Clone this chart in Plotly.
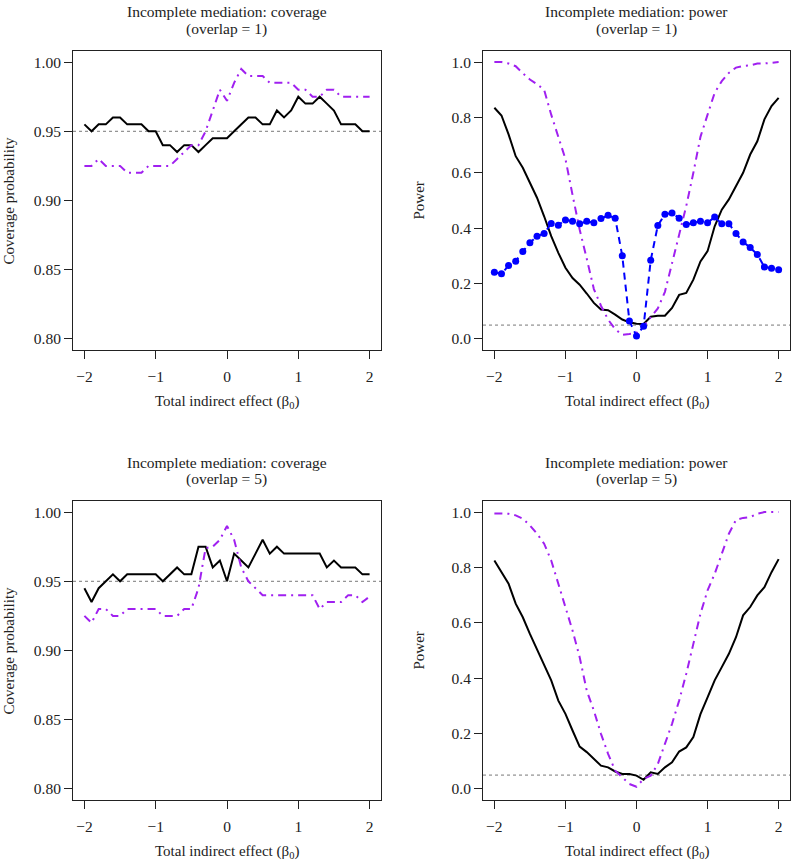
import plotly.graph_objects as go

# ---------------- data ----------------
beta0 = [round(-2 + 0.1 * i, 1) for i in range(41)]

cov1_black = [0.955, 0.950, 0.955, 0.955, 0.960, 0.960, 0.955, 0.955, 0.955, 0.950,
              0.950, 0.940, 0.940, 0.935, 0.940, 0.940, 0.935, 0.940, 0.945, 0.945,
              0.945, 0.950, 0.955, 0.960, 0.960, 0.955, 0.955, 0.965, 0.960, 0.965,
              0.975, 0.970, 0.970, 0.975, 0.970, 0.965, 0.955, 0.955, 0.955, 0.950,
              0.950]
cov1_purple = [0.925, 0.925, 0.930, 0.925, 0.925, 0.925, 0.920, 0.920, 0.920, 0.925,
               0.925, 0.925, 0.925, 0.930, 0.935, 0.940, 0.940, 0.950, 0.965, 0.980,
               0.972, 0.985, 0.995, 0.990, 0.990, 0.990, 0.985, 0.985, 0.985, 0.985,
               0.980, 0.980, 0.975, 0.975, 0.980, 0.980, 0.975, 0.975, 0.975, 0.975,
               0.975]

pow1_black = [0.835, 0.807, 0.739, 0.660, 0.618, 0.564, 0.510, 0.443, 0.371, 0.311,
              0.257, 0.220, 0.196, 0.164, 0.130, 0.106, 0.104, 0.088, 0.070, 0.060,
              0.055, 0.054, 0.080, 0.084, 0.084, 0.112, 0.159, 0.166, 0.214, 0.280,
              0.317, 0.407, 0.467, 0.504, 0.552, 0.600, 0.666, 0.714, 0.793, 0.841,
              0.871]
pow1_purple = [1.000, 1.000, 0.995, 0.985, 0.960, 0.937, 0.920, 0.900, 0.810, 0.730,
               0.650, 0.520, 0.395, 0.290, 0.180, 0.120, 0.070, 0.035, 0.015, 0.018,
               0.022, 0.046, 0.076, 0.110, 0.170, 0.270, 0.380, 0.480, 0.600, 0.730,
               0.810, 0.889, 0.931, 0.961, 0.980, 0.986, 0.988, 0.995, 0.995, 0.998,
               1.000]
pow1_blue = [0.241, 0.235, 0.265, 0.281, 0.316, 0.347, 0.371, 0.381, 0.417, 0.411,
             0.430, 0.425, 0.416, 0.425, 0.420, 0.435, 0.447, 0.436, 0.300, 0.065,
             0.011, 0.046, 0.284, 0.410, 0.450, 0.455, 0.436, 0.413, 0.420, 0.425,
             0.420, 0.440, 0.416, 0.416, 0.381, 0.350, 0.330, 0.305, 0.260, 0.255,
             0.250]

cov5_black = [0.945, 0.935, 0.945, 0.950, 0.955, 0.950, 0.955, 0.955, 0.955, 0.955,
              0.955, 0.950, 0.955, 0.960, 0.955, 0.955, 0.975, 0.975, 0.960, 0.965,
              0.950, 0.970, 0.965, 0.960, 0.970, 0.980, 0.970, 0.975, 0.970, 0.970,
              0.970, 0.970, 0.970, 0.970, 0.960, 0.965, 0.960, 0.960, 0.960, 0.955,
              0.955]
cov5_purple = [0.925, 0.920, 0.930, 0.930, 0.925, 0.925, 0.930, 0.930, 0.930, 0.930,
               0.930, 0.925, 0.925, 0.925, 0.930, 0.930, 0.945, 0.974, 0.975, 0.980,
               0.990, 0.980, 0.960, 0.950, 0.945, 0.940, 0.940, 0.940, 0.940, 0.940,
               0.940, 0.940, 0.940, 0.930, 0.935, 0.935, 0.935, 0.940, 0.940, 0.935,
               0.939]

pow5_black = [0.825, 0.783, 0.741, 0.669, 0.620, 0.560, 0.506, 0.452, 0.392, 0.319,
              0.271, 0.211, 0.153, 0.133, 0.108, 0.084, 0.078, 0.063, 0.054, 0.054,
              0.048, 0.033, 0.060, 0.054, 0.078, 0.096, 0.135, 0.150, 0.187, 0.270,
              0.331, 0.392, 0.440, 0.488, 0.548, 0.627, 0.657, 0.699, 0.729, 0.783,
              0.830]
pow5_purple = [0.995, 0.995, 0.994, 0.988, 0.976, 0.952, 0.922, 0.886, 0.825, 0.741,
               0.657, 0.572, 0.476, 0.355, 0.283, 0.199, 0.127, 0.066, 0.042, 0.018,
               0.008, 0.036, 0.048, 0.090, 0.163, 0.235, 0.319, 0.416, 0.524, 0.633,
               0.717, 0.777, 0.849, 0.922, 0.972, 0.979, 0.982, 0.994, 1.000, 1.000,
               1.000]

nominal_coverage = 0.95
nominal_alpha = 0.05

title_main = ["Incomplete mediation: coverage", "Incomplete mediation: power",
              "Incomplete mediation: coverage", "Incomplete mediation: power"]
title_sub = ["(overlap = 1)", "(overlap = 1)", "(overlap = 5)", "(overlap = 5)"]
xlabel = "Total indirect effect (β<sub>0</sub>)"
cov_ticks = [0.80, 0.85, 0.90, 0.95, 1.00]
pow_ticks = [0.0, 0.2, 0.4, 0.6, 0.8, 1.0]
x_ticks = [-2, -1, 0, 1, 2]

# ---------------- styling ----------------
W, H = 791, 860
FONT = "Liberation Serif"
TXT = "#222222"
BLACK = "#000000"
PURPLE = "#A020F0"
BLUE = "#0000FF"
DOTDASH = "8px,5px,2px,5px"

fig = go.Figure()

def add_line(x, y, ax, color, dash, width=2):
    fig.add_trace(go.Scatter(x=x, y=y, mode="lines", xaxis="x" + ax, yaxis="y" + ax,
                             line=dict(color=color, width=width, dash=dash),
                             showlegend=False, hoverinfo="skip"))

# panel 1
add_line(beta0, cov1_black, "", BLACK, "solid")
add_line(beta0, cov1_purple, "", PURPLE, DOTDASH)
# panel 2
add_line(beta0, pow1_black, "2", BLACK, "solid")
add_line(beta0, pow1_purple, "2", PURPLE, DOTDASH)
fig.add_trace(go.Scatter(x=beta0, y=pow1_blue, mode="lines+markers", xaxis="x2", yaxis="y2",
                         line=dict(color=BLUE, width=2, dash="7px,5px"),
                         marker=dict(color=BLUE, size=7),
                         showlegend=False, hoverinfo="skip"))
# panel 3
add_line(beta0, cov5_black, "3", BLACK, "solid")
add_line(beta0, cov5_purple, "3", PURPLE, DOTDASH)
# panel 4
add_line(beta0, pow5_black, "4", BLACK, "solid")
add_line(beta0, pow5_purple, "4", PURPLE, DOTDASH)

# pixel geometry of panels (left, right, top, bottom)
panels = [(73, 381, 51, 350), (483, 790, 51, 350), (73, 381, 501, 800), (483, 790, 501, 800)]

axis_common = dict(showline=True, mirror=True, linecolor=TXT, linewidth=1,
                   ticks="outside", ticklen=8, tickcolor=TXT, tickwidth=1,
                   showgrid=False, zeroline=False,
                   tickfont=dict(family=FONT, size=15.5, color=TXT))

layout = dict(width=W, height=H, margin=dict(l=0, r=0, t=0, b=0),
              plot_bgcolor="white", paper_bgcolor="white", showlegend=False)

annotations = []
shapes = []
for k, (l, r, t, b) in enumerate(panels):
    sx = "" if k == 0 else str(k + 1)
    is_cov = k in (0, 2)
    layout["xaxis" + sx] = dict(axis_common, domain=[l / W, r / W], range=[-2.16, 2.16],
                                tickvals=x_ticks, ticktext=["\u22122", "\u22121", "0", "1", "2"],
                                ticklabelstandoff=4, anchor="y" + sx)
    if is_cov:
        layout["yaxis" + sx] = dict(axis_common, domain=[1 - b / H, 1 - t / H],
                                    range=[0.792, 1.008], tickvals=cov_ticks,
                                    tickformat=".2f", anchor="x" + sx)
        ref = nominal_coverage
        ytitle = "Coverage probability"
    else:
        layout["yaxis" + sx] = dict(axis_common, domain=[1 - b / H, 1 - t / H],
                                    range=[-0.04, 1.04], tickvals=pow_ticks,
                                    tickformat=".1f", anchor="x" + sx)
        ref = nominal_alpha
        ytitle = "Power"
    shapes.append(dict(type="line", xref="x" + sx + " domain", yref="y" + sx,
                       x0=0, x1=1, y0=ref, y1=ref,
                       line=dict(color="#777777", width=1, dash="dot"), layer="below"))
    cx = (l + r) / 2
    annotations.append(dict(text=title_main[k], x=cx / W, y=1 - (t - 39) / H, xref="paper",
                            yref="paper", xanchor="center", yanchor="middle", showarrow=False,
                            font=dict(family=FONT, size=15.5, color=TXT)))
    annotations.append(dict(text=title_sub[k], x=cx / W, y=1 - (t - 22) / H, xref="paper",
                            yref="paper", xanchor="center", yanchor="middle", showarrow=False,
                            font=dict(family=FONT, size=15.5, color=TXT)))
    annotations.append(dict(text=xlabel, x=cx / W, y=1 - (b + 52) / H, xref="paper", yref="paper",
                            xanchor="center", yanchor="middle", showarrow=False,
                            font=dict(family=FONT, size=15, color=TXT)))
    annotations.append(dict(text=ytitle, x=(l - 65) / W, y=1 - ((t + b) / 2) / H, xref="paper",
                            yref="paper", xanchor="center", yanchor="middle", showarrow=False,
                            textangle=-90, font=dict(family=FONT, size=15, color=TXT)))

layout["annotations"] = annotations
layout["shapes"] = shapes
fig.update_layout(**layout)
fig.write_html("out.html", config={"displayModeBar": False},
               post_script="document.body.style.margin='0';document.body.style.overflow='hidden';")
